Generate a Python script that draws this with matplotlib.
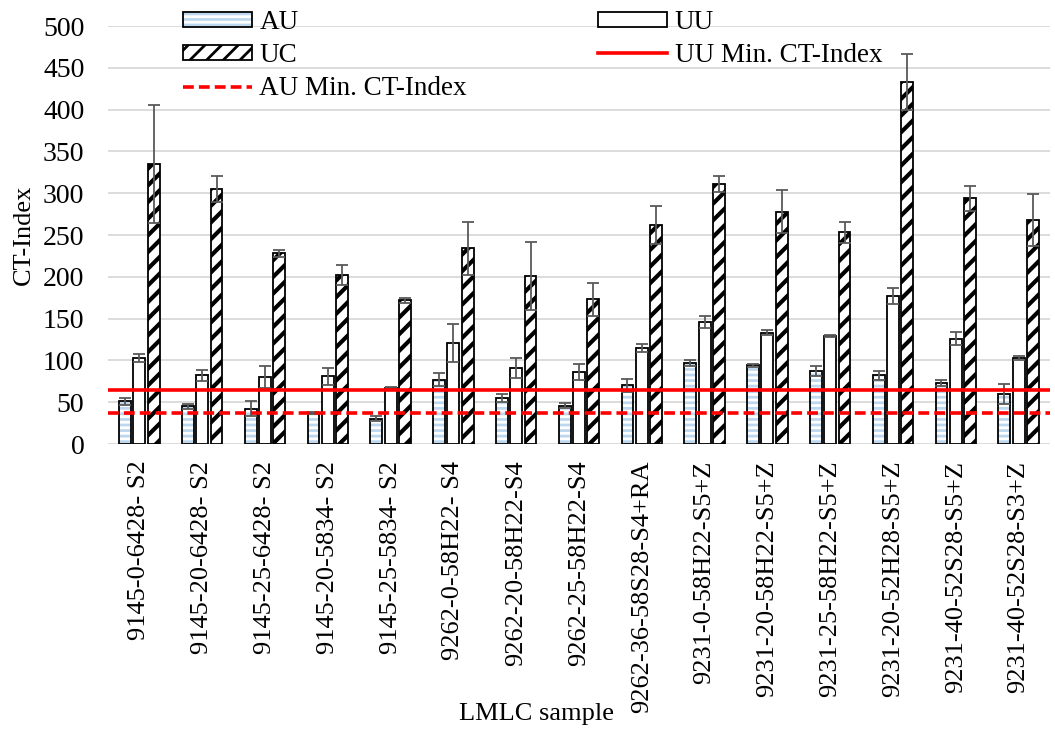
import numpy as np
import matplotlib as mpl
mpl.use("Agg")
from matplotlib import pyplot as plt
from matplotlib.patches import Patch
from matplotlib.lines import Line2D

# 数据
samples = ["9145-0-6428- S2", "9145-20-6428- S2", "9145-25-6428- S2", "9145-20-5834- S2",
           "9145-25-5834- S2", "9262-0-58H22- S4", "9262-20-58H22-S4", "9262-25-58H22-S4",
           "9262-36-58S28-S4+RA", "9231-0-58H22-S5+Z", "9231-20-58H22-S5+Z",
           "9231-25-58H22-S5+Z", "9231-20-52H28-S5+Z", "9231-40-52S28-S5+Z",
           "9231-40-52S28-S3+Z"]
au = [51, 45, 42, 37, 30, 77, 55, 46, 70, 97, 94, 87, 82, 73, 60]
au_err = [4, 3, 9, 1, 3, 8, 5, 3, 8, 4, 2, 6, 5, 4, 12]
uu = [103, 82, 80, 81, 67, 121, 91, 86, 115, 146, 133, 129, 177, 126, 103]
uu_err = [5, 7, 13, 10, 1, 23, 12, 10, 5, 7, 3, 1, 10, 8, 2]
uc = [335, 305, 228, 202, 172, 234, 201, 173, 262, 311, 278, 253, 433, 294, 268]
uc_err = [71, 15, 4, 12, 3, 32, 41, 20, 23, 10, 26, 13, 34, 15, 31]
uu_min = 65
au_min = 37

plt.rcParams['font.family'] = ['Liberation Serif', 'DejaVu Serif']
plt.rcParams['hatch.linewidth'] = 2.0


def hatch_lw(p, lw):
    # 斜线粗细单独设置（若版本支持）
    if hasattr(p, 'set_hatch_linewidth'):
        p.set_hatch_linewidth(lw)


fig = plt.figure(figsize=(10.55, 7.34), dpi=100)
ax = fig.add_axes([108 / 1055, 1 - 444 / 734, 942 / 1055, 418 / 734])

x = np.arange(len(samples))
w = 0.19
off = 0.228
ecol = '#595959'
blue = '#bdd7ee'

# AU：白底浅蓝横条纹
ax.bar(x - off, au, w, color='white', edgecolor=blue, hatch='---', linewidth=0, zorder=2)
ax.bar(x - off, au, w, fill=False, edgecolor='black', linewidth=1.3, zorder=3)
# UU：白色
ax.bar(x, uu, w, color='white', edgecolor='black', linewidth=1.3, zorder=3)
# UC：黑色粗斜线
with plt.rc_context({'hatch.linewidth': 3.0}):
    bars_uc = ax.bar(x + off, uc, w, color='white', edgecolor='black', hatch='//',
                     linewidth=1.3, zorder=3)
for p in bars_uc:
    hatch_lw(p, 3.0)

# 误差棒
for xs, v, e in [(x - off, au, au_err), (x, uu, uu_err), (x + off, uc, uc_err)]:
    ax.errorbar(xs, v, yerr=e, fmt='none', ecolor=ecol, elinewidth=1.3,
                capsize=4.5, capthick=1.3, zorder=4)

# 最小CT-Index线
ax.axhline(uu_min, color='red', linewidth=2.6, zorder=5)
ax.axhline(au_min, color='red', linewidth=2.6, linestyle=(0, (3.0, 1.4)), zorder=5)

ax.set_xlim(-0.5, len(samples) - 0.5)
ax.set_ylim(0, 500)
ax.set_yticks(np.arange(0, 501, 50))
ax.set_xticks(x)
ax.set_xticklabels(samples, rotation=90, fontsize=19)
ax.tick_params(axis='y', length=0, pad=17, labelsize=20)
ax.tick_params(axis='x', length=0, pad=12)
ax.yaxis.grid(True, color='#d9d9d9', linewidth=1.3)
ax.set_axisbelow(True)
for s in ax.spines.values():
    s.set_visible(False)

ax.set_ylabel('CT-Index', fontsize=19)
ax.yaxis.set_label_coords(-0.0775, 0.5)
ax.set_xlabel('LMLC sample', fontsize=19)
ax.xaxis.set_label_coords(0.455, -0.62)

# 图例
h_au = (Patch(facecolor='white', edgecolor=blue, linewidth=0, hatch='---'),
        Patch(fill=False, edgecolor='black', linewidth=1.3))
h_uu = Patch(facecolor='white', edgecolor='black', linewidth=1.3)
with plt.rc_context({'hatch.linewidth': 3.0}):
    h_uc = Patch(facecolor='white', edgecolor='black', linewidth=1.3, hatch='//')
hatch_lw(h_uc, 3.0)
h_uumin = Line2D([], [], color='red', linewidth=2.6)
h_aumin = Line2D([], [], color='red', linewidth=2.6, linestyle=(0, (3.0, 1.4)))
leg = fig.legend([h_au, h_uc, h_aumin, h_uu, h_uumin],
                 ['AU', 'UC', 'AU Min. CT-Index', 'UU', 'UU Min. CT-Index'],
                 ncol=2, loc='upper left', bbox_to_anchor=(183 / 1055, 1 - 10 / 734),
                 frameon=False, fontsize=19.5, borderpad=0, borderaxespad=0,
                 handlelength=2.55, handleheight=0.5, handletextpad=0.27,
                 labelspacing=0.3, columnspacing=4.85)

fig.savefig('out.png', dpi=100)
